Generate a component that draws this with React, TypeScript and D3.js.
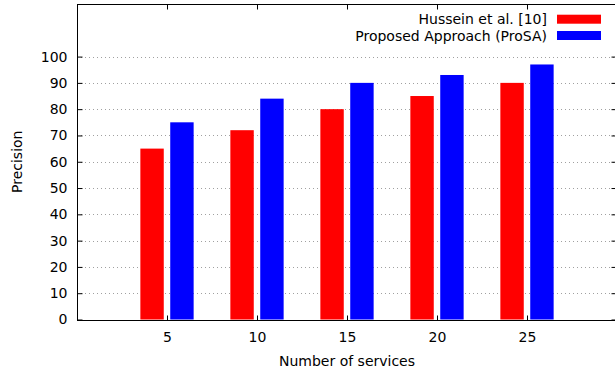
import React, { useEffect, useRef } from 'react';
import * as d3 from 'd3';

const services = [5, 10, 15, 20, 25];
const hussein = [65, 72, 80, 85, 90];
const prosa = [75, 84, 90, 93, 97];
const yTicks = [0, 10, 20, 30, 40, 50, 60, 70, 80, 90, 100];

const seriesList = [
	{ name: 'Hussein et al. [10]', values: hussein, color: '#ff0000', offset: -0.83 },
	{ name: 'Proposed Approach (ProSA)', values: prosa, color: '#0000ff', offset: 0.83 },
];

const width = 615;
const height = 374;
const margin = { top: 4, right: -2, bottom: 54.5, left: 77 };
const barWidth = 1.3;
const font = '"DejaVu Sans", sans-serif';
const fontSize = '14px';

export default function App() {
	const ref = useRef<SVGSVGElement>(null);

	useEffect(() => {
		const svg = d3.select(ref.current);
		svg.selectAll('*').remove();
		svg.style('font-family', font).style('font-size', fontSize);

		const x = d3.scaleLinear().domain([0, 30]).range([margin.left, width - margin.right]);
		const y = d3.scaleLinear().domain([0, 120]).range([height - margin.bottom, margin.top]);
		const x0 = margin.left;
		const x1 = width - margin.right;
		const yBottom = height - margin.bottom;

		// grid
		svg.append('g')
			.selectAll('line')
			.data(yTicks.filter(d => d > 0))
			.enter()
			.append('line')
			.attr('x1', x0)
			.attr('x2', x1)
			.attr('y1', d => Math.round(y(d)) + 0.5)
			.attr('y2', d => Math.round(y(d)) + 0.5)
			.attr('stroke', '#a0a0a0')
			.attr('stroke-width', 1)
			.attr('stroke-dasharray', '1,3');

		// bars
		seriesList.forEach(s => {
			svg.append('g')
				.selectAll('rect')
				.data(services.map((v, i) => ({ q: v, p: s.values[i] })))
				.enter()
				.append('rect')
				.attr('x', d => x(d.q + s.offset - barWidth / 2))
				.attr('width', x(barWidth) - x(0))
				.attr('y', d => y(d.p))
				.attr('height', d => yBottom - y(d.p))
				.attr('fill', s.color);
		});

		// axes with inward ticks, mirrored
		const axisStyle = (g: any) => {
			g.select('.domain').remove();
			g.selectAll('line').attr('stroke', '#000');
			g.selectAll('text').attr('fill', '#000').style('font-family', font).style('font-size', fontSize);
		};

		svg.append('g')
			.attr('transform', `translate(0,${Math.round(yBottom) + 0.5})`)
			.call(d3.axisBottom(x).tickValues(services).tickSizeInner(-5).tickSizeOuter(0).tickPadding(12))
			.call(axisStyle);
		svg.append('g')
			.attr('transform', `translate(0,${margin.top + 0.5})`)
			.call(d3.axisTop(x).tickValues(services).tickSizeInner(-5).tickSizeOuter(0).tickFormat(() => ''))
			.call(axisStyle);
		svg.append('g')
			.attr('transform', `translate(${x0 + 0.5},0)`)
			.call(d3.axisLeft(y).tickValues(yTicks).tickSizeInner(-5).tickSizeOuter(0).tickPadding(10))
			.call(axisStyle);
		svg.append('g')
			.attr('transform', `translate(${x1 - 0.5},0)`)
			.call(d3.axisRight(y).tickValues(yTicks).tickSizeInner(-5).tickSizeOuter(0).tickFormat(() => ''))
			.call(axisStyle);

		// border
		svg.append('rect')
			.attr('x', x0 + 0.5)
			.attr('y', margin.top + 0.5)
			.attr('width', x1 - x0 - 1)
			.attr('height', Math.round(yBottom) - margin.top)
			.attr('fill', 'none')
			.attr('stroke', '#000')
			.attr('stroke-width', 1);

		// axis labels
		svg.append('text')
			.attr('x', (x0 + x1) / 2)
			.attr('y', 366)
			.attr('text-anchor', 'middle')
			.text('Number of services');
		svg.append('text')
			.attr('transform', `translate(21.5,${(margin.top + yBottom) / 2}) rotate(-90)`)
			.attr('text-anchor', 'middle')
			.text('Precision');

		// legend
		const legend = svg.append('g');
		seriesList.forEach((s, i) => {
			const cy = 19.2 + i * 16.3;
			legend.append('rect')
				.attr('x', 557)
				.attr('y', cy - 4.5)
				.attr('width', 44)
				.attr('height', 9)
				.attr('fill', s.color);
			legend.append('text')
				.attr('x', 547)
				.attr('y', cy)
				.attr('dy', '0.36em')
				.attr('text-anchor', 'end')
				.text(s.name);
		});
	}, []);

	return (
		<svg
			ref={ref}
			width={width}
			height={height}
			style={{ position: 'absolute', left: 0, top: 0, background: '#fff' }}
		/>
	);
}
